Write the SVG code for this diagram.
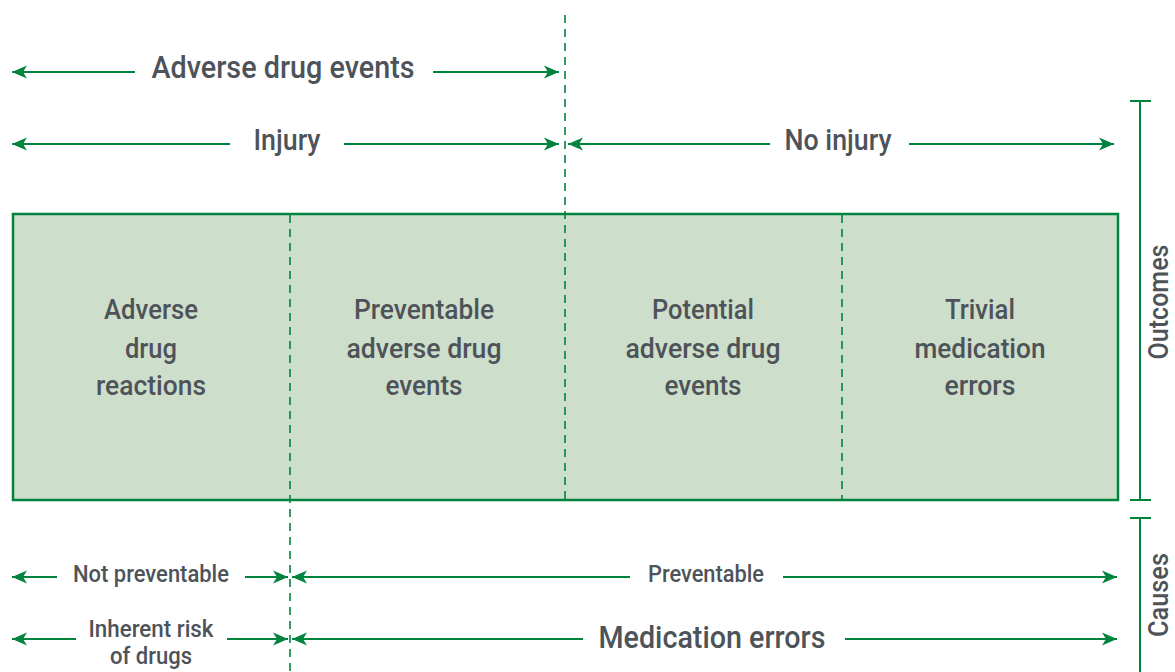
<svg xmlns="http://www.w3.org/2000/svg" width="1175" height="672" viewBox="0 0 1175 672">
<defs>
<marker id="ah" markerUnits="userSpaceOnUse" markerWidth="16" markerHeight="14" refX="15" refY="7" orient="auto">
<path d="M0,0.5 L15,7 L0,13.5 L4,7 z" fill="#00843d"/>
</marker>
<style>
.t{font-family:Roboto,"Liberation Sans",sans-serif;font-weight:500;fill:#4d5359;text-anchor:middle}
.a{stroke:#00843d;stroke-width:2;fill:none;marker-end:url(#ah)}
.d{stroke:#00843d;stroke-width:1.6;stroke-dasharray:8,6;fill:none}
.s{stroke:#00843d;stroke-width:2;fill:none}
</style>
</defs>
<rect width="1175" height="672" fill="#fff"/>
<g id="box">
<rect x="13" y="214" width="1105" height="286" fill="#cddecb" stroke="#00843d" stroke-width="2.5"/>
</g>
<g id="dividers">
<line class="d" x1="565" y1="15" x2="565" y2="499"/>
<line class="d" x1="290" y1="215" x2="290" y2="672"/>
<line class="d" x1="842" y1="215" x2="842" y2="499"/>
</g>
<g id="cell-adr">
<text class="t" font-size="28" x="151" y="319" textLength="94" lengthAdjust="spacingAndGlyphs">Adverse</text>
<text class="t" font-size="28" x="151" y="358" textLength="52" lengthAdjust="spacingAndGlyphs">drug</text>
<text class="t" font-size="28" x="151" y="395" textLength="110" lengthAdjust="spacingAndGlyphs">reactions</text>
</g>
<g id="cell-preventable">
<text class="t" font-size="28" x="424" y="319" textLength="140" lengthAdjust="spacingAndGlyphs">Preventable</text>
<text class="t" font-size="28" x="424" y="358" textLength="155" lengthAdjust="spacingAndGlyphs">adverse drug</text>
<text class="t" font-size="28" x="424" y="395" textLength="77" lengthAdjust="spacingAndGlyphs">events</text>
</g>
<g id="cell-potential">
<text class="t" font-size="28" x="703" y="319" textLength="102" lengthAdjust="spacingAndGlyphs">Potential</text>
<text class="t" font-size="28" x="703" y="358" textLength="155" lengthAdjust="spacingAndGlyphs">adverse drug</text>
<text class="t" font-size="28" x="703" y="395" textLength="77" lengthAdjust="spacingAndGlyphs">events</text>
</g>
<g id="cell-trivial">
<text class="t" font-size="28" x="980" y="319" textLength="70" lengthAdjust="spacingAndGlyphs">Trivial</text>
<text class="t" font-size="28" x="980" y="358" textLength="131" lengthAdjust="spacingAndGlyphs">medication</text>
<text class="t" font-size="28" x="980" y="395" textLength="71" lengthAdjust="spacingAndGlyphs">errors</text>
</g>
<g id="labels">
<text class="t" font-size="31" x="283" y="78" textLength="263" lengthAdjust="spacingAndGlyphs">Adverse drug events</text>
<text class="t" font-size="30" x="287" y="150" textLength="67" lengthAdjust="spacingAndGlyphs">Injury</text>
<text class="t" font-size="30" x="838" y="150" textLength="107" lengthAdjust="spacingAndGlyphs">No injury</text>
<text class="t" font-size="23" x="151" y="582" textLength="156" lengthAdjust="spacingAndGlyphs">Not preventable</text>
<text class="t" font-size="23" x="706" y="582" textLength="116" lengthAdjust="spacingAndGlyphs">Preventable</text>
<text class="t" font-size="23" x="151" y="637" textLength="125" lengthAdjust="spacingAndGlyphs">Inherent risk</text>
<text class="t" font-size="23" x="151" y="664" textLength="82" lengthAdjust="spacingAndGlyphs">of drugs</text>
<text class="t" font-size="31" x="712" y="648" textLength="227" lengthAdjust="spacingAndGlyphs">Medication errors</text>
<text class="t" font-size="28" transform="translate(1168,302) rotate(-90)" textLength="115" lengthAdjust="spacingAndGlyphs">Outcomes</text>
<text class="t" font-size="28" transform="translate(1168,595) rotate(-90)" textLength="84" lengthAdjust="spacingAndGlyphs">Causes</text>
</g>
<g id="connectors">
<line class="a" x1="135" y1="72" x2="12" y2="72"/>
<line class="a" x1="433" y1="72" x2="559" y2="72"/>
<line class="a" x1="230" y1="144" x2="12" y2="144"/>
<line class="a" x1="344" y1="144" x2="559" y2="144"/>
<line class="a" x1="770" y1="144" x2="568" y2="144"/>
<line class="a" x1="909" y1="144" x2="1114" y2="144"/>
<line class="a" x1="57" y1="577" x2="12" y2="577"/>
<line class="a" x1="245" y1="577" x2="288" y2="577"/>
<line class="a" x1="630" y1="577" x2="292" y2="577"/>
<line class="a" x1="783" y1="577" x2="1117" y2="577"/>
<line class="a" x1="76" y1="639" x2="12" y2="639"/>
<line class="a" x1="227" y1="639" x2="288" y2="639"/>
<line class="a" x1="583" y1="639" x2="292" y2="639"/>
<line class="a" x1="845" y1="639" x2="1117" y2="639"/>
<path class="s" d="M1140,101 V500 M1130,101 H1151 M1130,500 H1151 M1130,518 H1151 M1140,518 V672"/>
</g>
</svg>
